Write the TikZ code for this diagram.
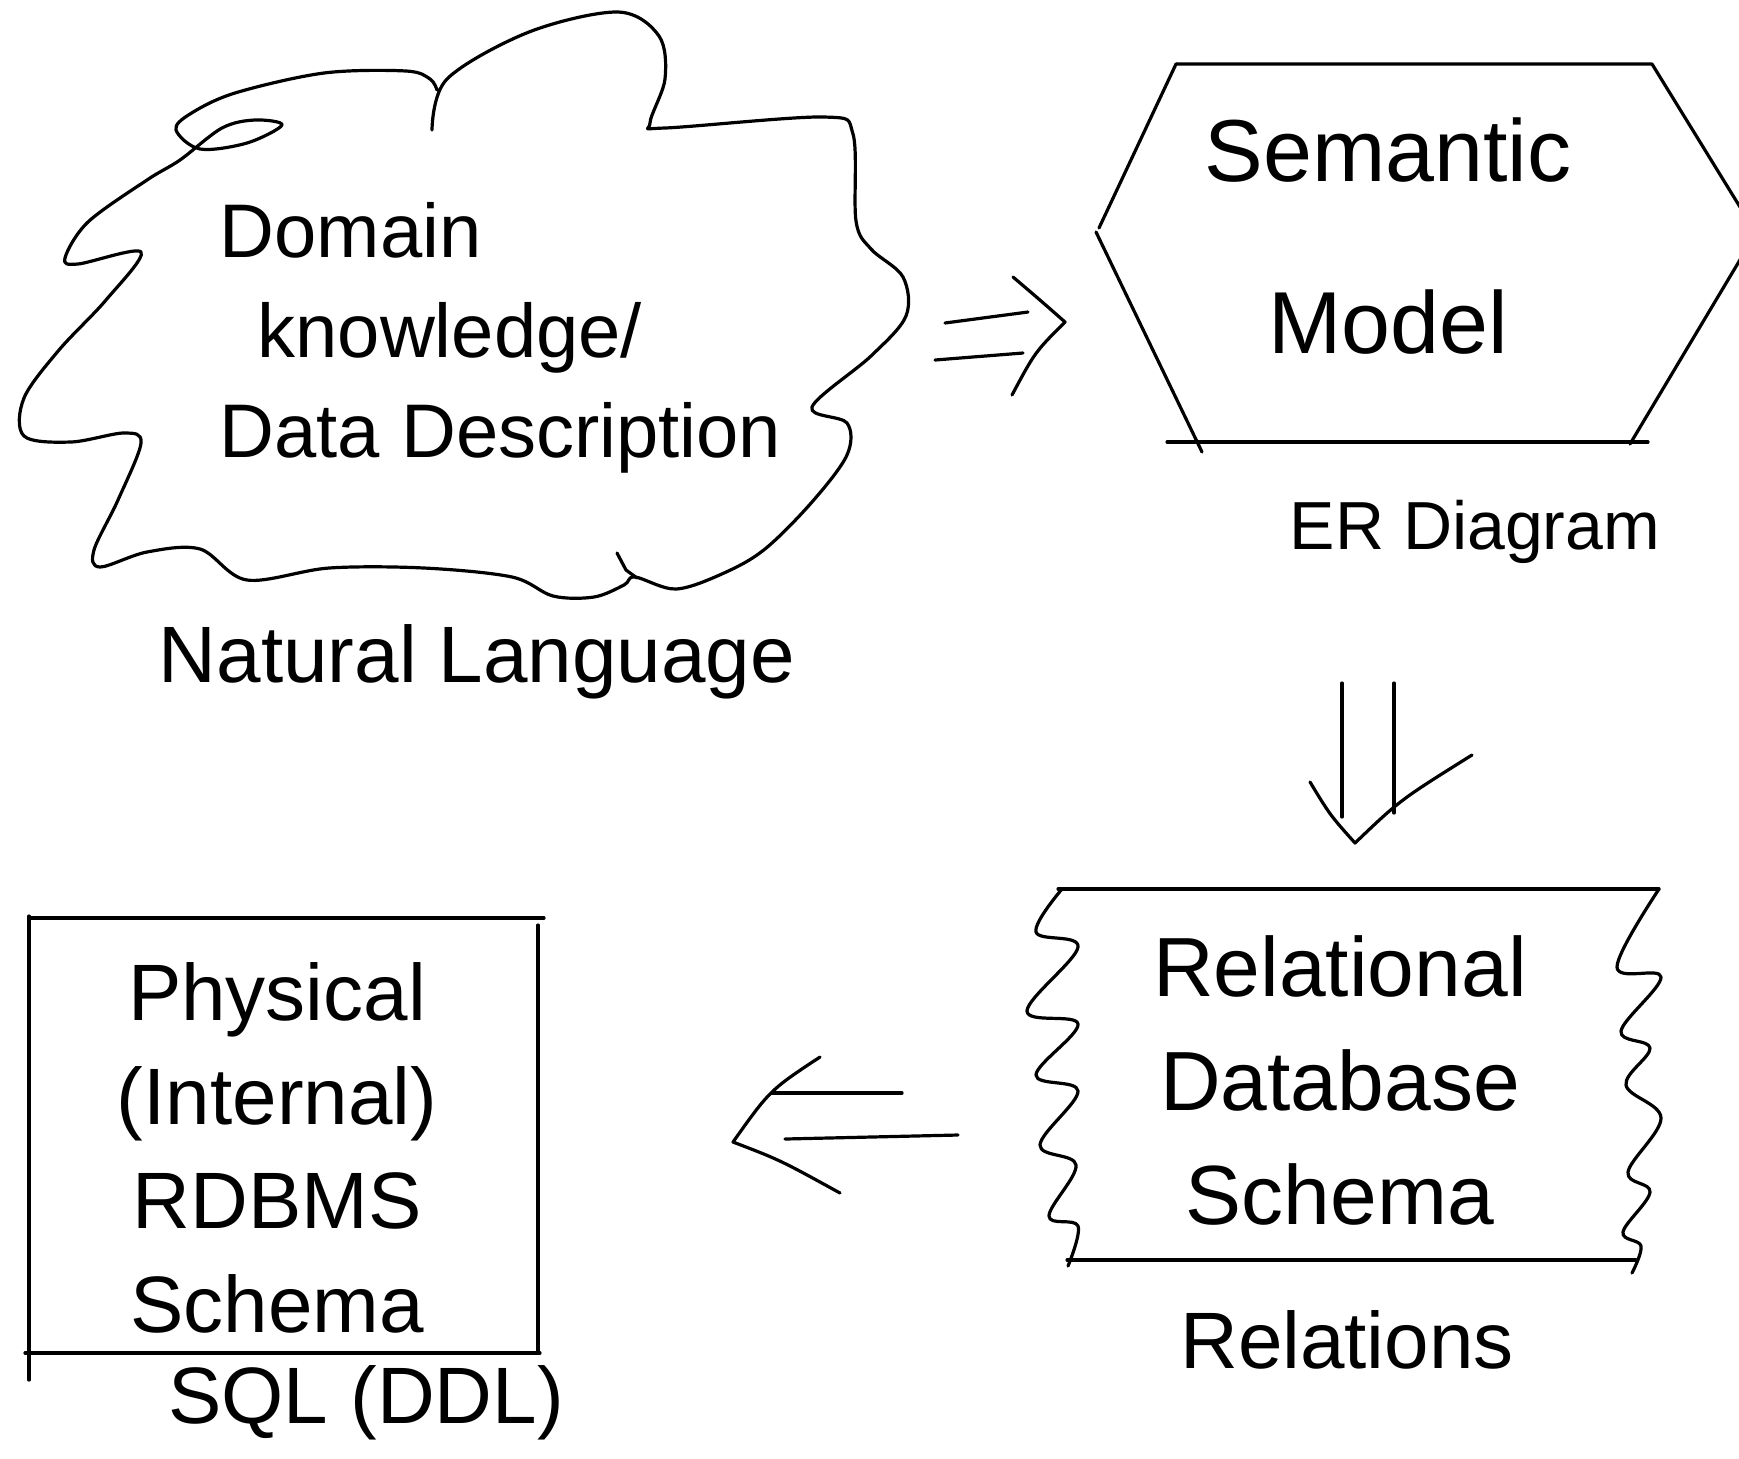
\documentclass[tikz,border=0pt]{standalone}
\usepackage{fontspec}
\setmainfont{Liberation Sans}
\usetikzlibrary{positioning, calc}

\tikzset{
  ink/.style={line width=1.6pt, line cap=round, line join=round},
  hand/.style={inner sep=0pt, align=center},
}

\begin{document}
\begin{tikzpicture}[x=0.5pt, y=-0.5pt, ink]
  \clip (0,0) rectangle (1739,1458);

  % cloud round the domain text
  \draw plot[smooth, tension=0.55] coordinates {
    (437,90) (430,79) (406,71) (324,73) (235,93) (190,114) (176,130)
    (200,149) (247,143) (282,125) (255,120) (222,128) (180,160) (147,180)
    (88,222) (65,258) (78,264) (141,252) (106,300) (59,350) (24,398)
    (24,436) (71,442) (124,433) (141,443) (118,500) (94,550) (100,567)
    (147,552) (200,549) (247,580) (329,568) (424,568) (512,577) (553,596)
    (594,597) (624,585) (635,577) (676,589) (724,573) (765,549) (812,502)
    (847,455) (847,423) (812,407) (871,356) (906,316) (903,277) (871,249)
    (856,221) (853,134) (824,117) (665,128) (650,123) (665,79) (659,36)
    (618,12) (529,32) (447,79) (432,130)};
  \draw (617,553) -- (626,570) -- (637,578);

  % hexagon
  \draw (1176,64) -- (1652,64) -- (1756,233) -- (1630,444);
  \draw (1176,64) -- (1099,228);
  \draw (1096,232) -- (1202,452);
  \draw (1167,442) -- (1648,442);

  % relational box
  \draw (1058,889) -- (1659,889);
  \draw (1067,1260) -- (1636,1260);
  \draw plot[smooth, tension=0.6] coordinates {
    (1062,889) (1036,932) (1078,947) (1027,1011) (1078,1024) (1036,1075)
    (1078,1091) (1040,1145) (1076,1165) (1049,1216) (1078,1226) (1068,1266)};
  \draw plot[smooth, tension=0.6] coordinates {
    (1659,889) (1617,967) (1661,977) (1621,1031) (1650,1048) (1626,1085)
    (1661,1118) (1628,1172) (1650,1192) (1623,1232) (1641,1246) (1632,1273)};

  % physical box
  \draw (29,916) -- (29,1380);
  \draw (29,918) -- (544,918);
  \draw (538,925) -- (538,1352);
  \draw (25,1353) -- (540,1353);

  % texts
  \node[hand, align=left, anchor=west, font=\fontsize{38}{50}\selectfont] (domain) at (218,338)
    {Domain\\\hspace{0.5em}knowledge/\\Data Description};
  \node[hand, font=\fontsize{40}{48}\selectfont] (nllabel) at (477,662) {Natural Language};
  \node[hand, font=\fontsize{44}{86}\selectfont] (semantic) at (1388,236) {Semantic\\Model};
  \node[hand, font=\fontsize{34}{40}\selectfont] (erlabel) at (1475,532) {ER Diagram};
  \node[hand, font=\fontsize{42}{57}\selectfont] (relschema) at (1340,1080) {Relational\\Database\\Schema};
  \node[hand, font=\fontsize{40}{48}\selectfont] (relations) at (1347,1340) {Relations};
  \node[hand, font=\fontsize{40}{52}\selectfont] (physical) at (277,1148) {Physical\\(Internal)\\RDBMS\\Schema};
  \node[hand, font=\fontsize{40}{48}\selectfont] (sqllabel) at (366,1403) {SQL (DDL)};

  % arrow: domain => semantic model
  \coordinate (dmOut) at (940,341);
  \coordinate (smIn) at (1025,332);
  \coordinate (smTip) at (1065,322);
  \draw ($(dmOut)+(5,-18)$) -- ($(smIn)+(3,-20)$);
  \draw ($(dmOut)+(-5,19)$) -- ($(smIn)+(-2,21)$);
  \draw (1013,277) .. controls (1040,300) .. (smTip) .. controls (1035,352) .. (1012,395);

  % arrow: semantic model => relational schema
  \coordinate (smOut) at (1368,683);
  \coordinate (rsIn) at (1368,815);
  \coordinate (rsTip) at (1355,843);
  \draw ($(smOut)+(-26,0)$) -- ($(rsIn)+(-26,2)$);
  \draw ($(smOut)+(26,0)$) -- ($(rsIn)+(26,-2)$);
  \draw (1310,782) .. controls (1330,815) .. (rsTip) .. controls (1400,800) .. (1472,755);

  % arrow: relational schema => physical schema
  \coordinate (rsOut) at (944,1115);
  \coordinate (psIn) at (778,1116);
  \coordinate (psTip) at (733,1142);
  \draw ($(rsOut)+(-42,-22)$) -- ($(psIn)+(-6,-23)$);
  \draw ($(rsOut)+(14,20)$) -- ($(psIn)+(7,23)$);
  \draw (820,1057) .. controls (770,1090) .. (psTip) .. controls (780,1160) .. (840,1193);
\end{tikzpicture}
\end{document}
